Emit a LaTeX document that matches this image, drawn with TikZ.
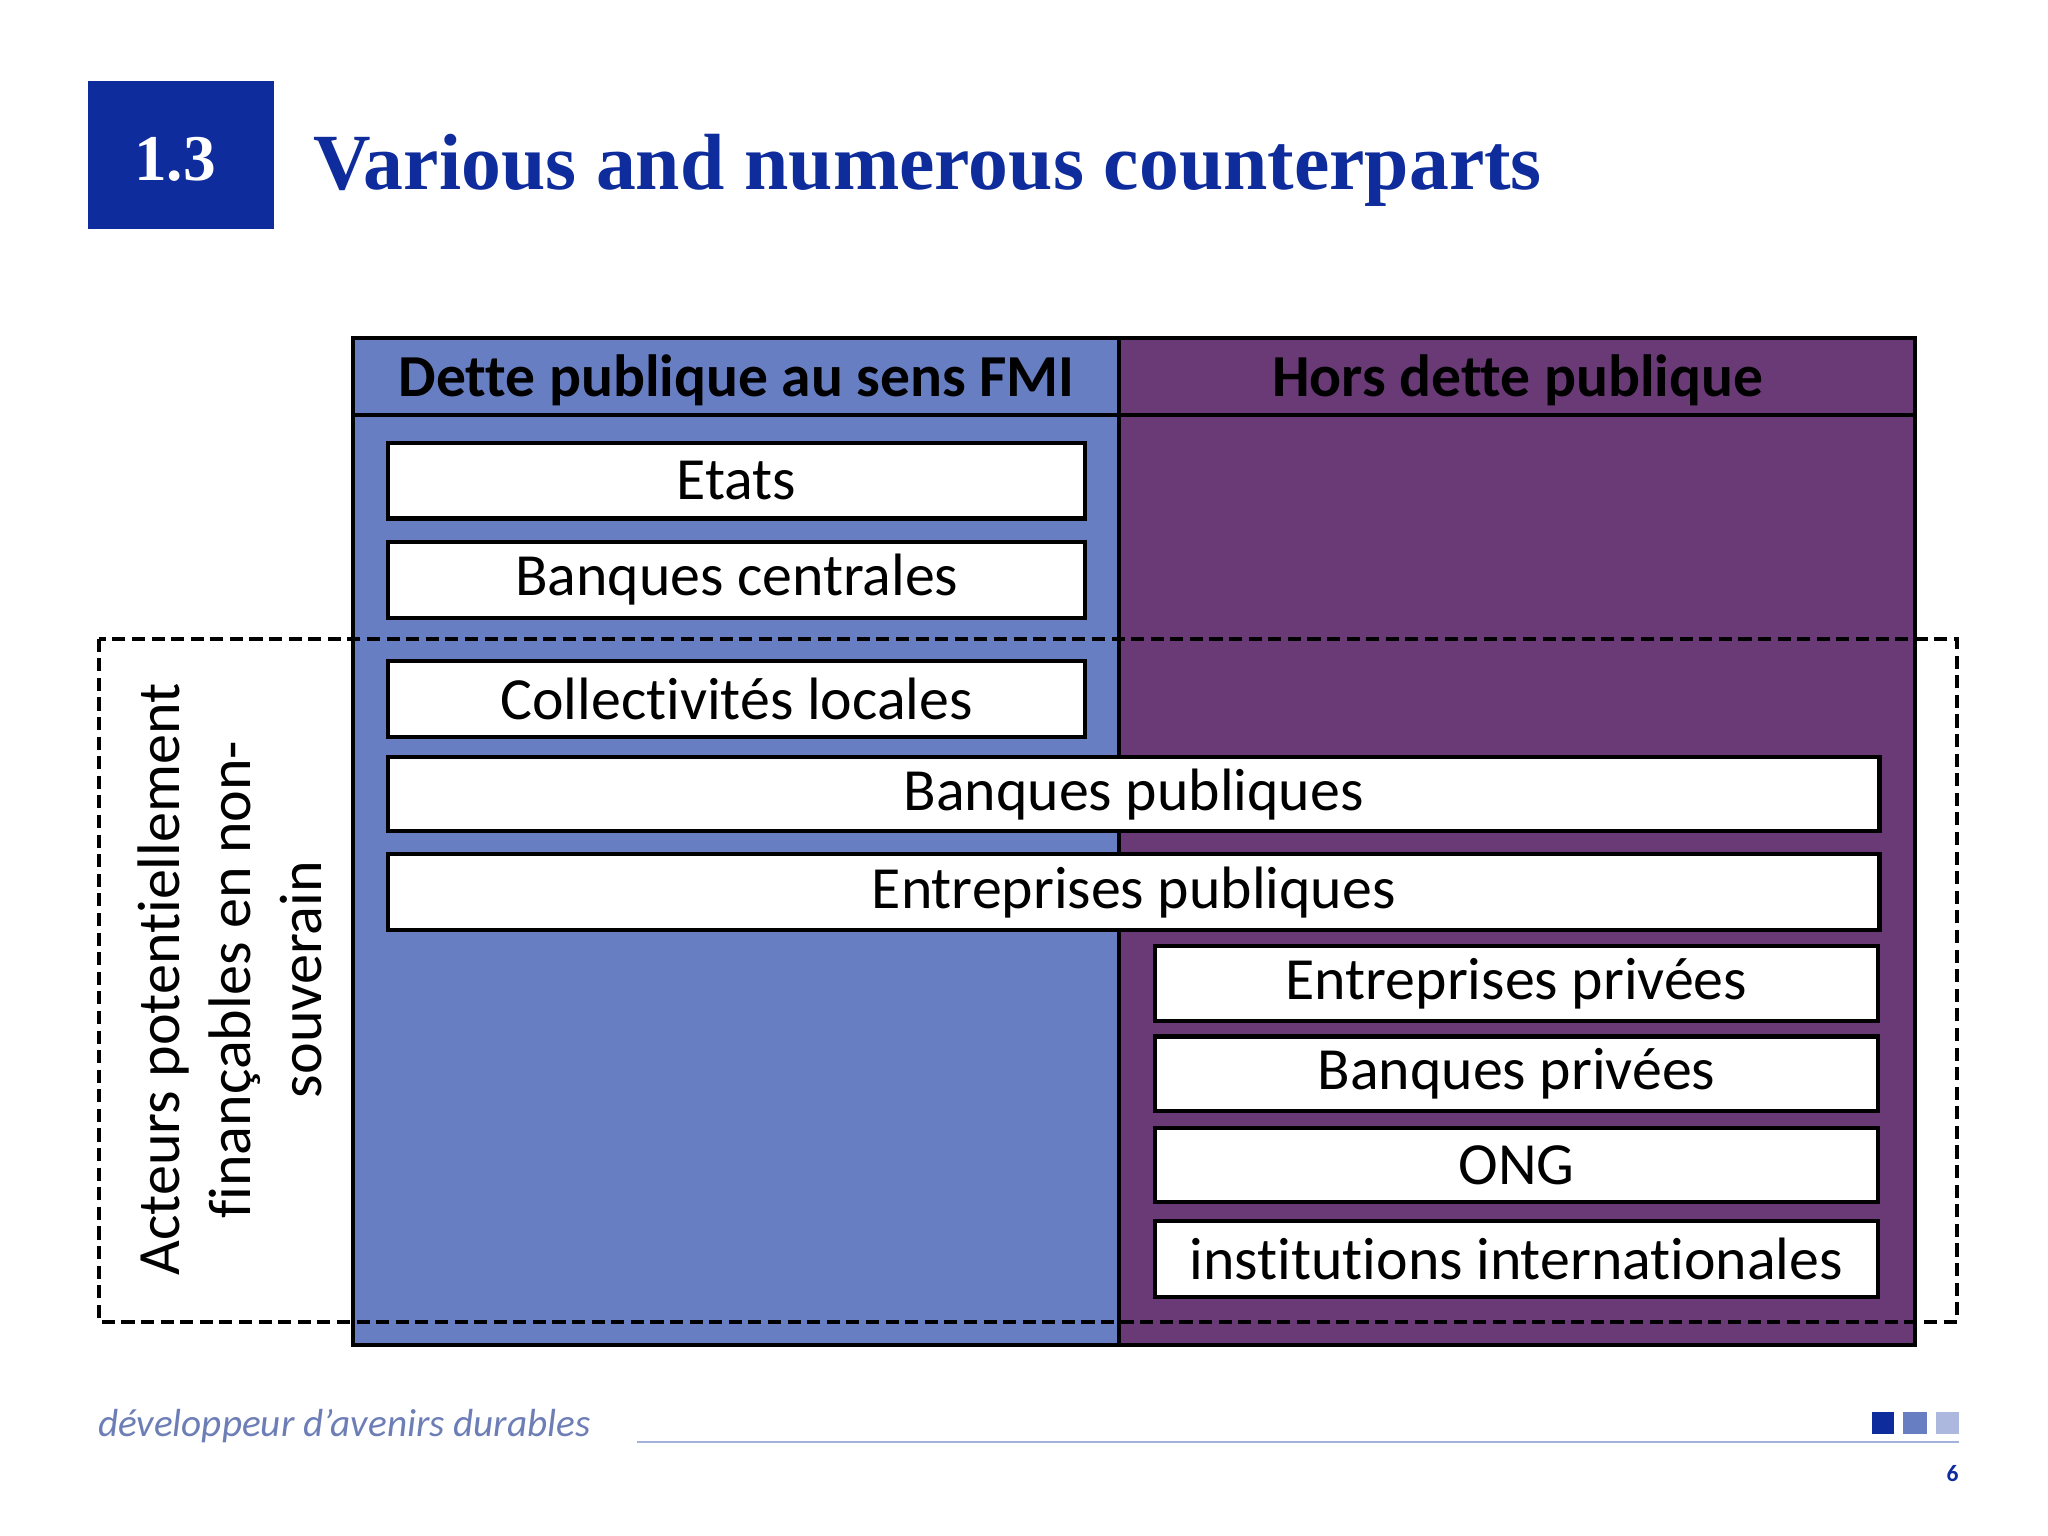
\documentclass[tikz,border=0pt]{standalone}
\usepackage{fontspec}
\setmainfont[Ligatures=NoCommon]{Carlito}
\newfontfamily\ser{Liberation Serif}
\begin{document}
\begin{tikzpicture}[x=0.5pt,y=-0.5pt,
  cell/.style={draw=black,line width=1.6pt,fill=white,inner sep=0pt,font=\fontsize{22.9}{24}\selectfont},
  rot/.style={rotate=90,font=\fontsize{23}{24}\selectfont}]
\definecolor{tblue}{HTML}{0E2C9C}
\definecolor{lblue}{HTML}{687EC3}
\definecolor{purp}{HTML}{6A3A77}
\useasboundingbox (0,0) rectangle (1568,1176);
\fill[white] (0,0) rectangle (1568,1176);
% title
\fill[tblue] (67,62) rectangle (210,175);
\node[text=white,font=\ser\bfseries\fontsize{25}{30}\selectfont] (num) at (134,122) {1.3};
\node[anchor=base west,text=tblue,font=\ser\bfseries\fontsize{30.5}{36}\selectfont] (title) at (233,145) {Various and numerous counterparts};
% table
\fill[lblue] (270,259) rectangle (857,1030);
\fill[purp] (857,259) rectangle (1466,1030);
\draw[line width=1.6pt] (270,259) rectangle (1466,1030);
\draw[line width=1.6pt] (857,259) -- (857,1030);
\draw[line width=1.6pt] (270,318) -- (1466,318);
\node[font=\bfseries\fontsize{22.8}{23}\selectfont] (h1) at (564,291) {Dette publique au sens FMI};
\node[font=\bfseries\fontsize{22.8}{23}\selectfont] (h2) at (1162,291) {Hors dette publique};
% boxes
\node[cell,minimum width=267pt,minimum height=29pt] (b1) at (564,368) {Etats};
\node[cell,minimum width=267pt,minimum height=29pt] (b2) at (564,444) {Banques centrales};
\node[cell,minimum width=267pt,minimum height=29pt] (b3) at (564,535) {Collectivités locales};
\node[cell,minimum width=571pt,minimum height=28.5pt] (b4) at (868,608) {Banques publiques};
\node[cell,minimum width=571pt,minimum height=29pt] (b5) at (868,683) {Entreprises publiques};
\node[cell,minimum width=277pt,minimum height=28.5pt] (b6) at (1161,753) {Entreprises privées};
\node[cell,minimum width=277pt,minimum height=28.5pt] (b7) at (1161,822) {Banques privées};
\node[cell,minimum width=277pt,minimum height=28.5pt] (b8) at (1161,892) {ONG};
\node[cell,minimum width=277pt,minimum height=29pt] (b9) at (1161,964) {institutions internationales};
% dashed
\draw[line width=1.5pt,dash pattern=on 5pt off 2.5pt] (76,489) rectangle (1498,1012);
\node[rot,align=center] (side) at (176,750) {Acteurs potentiellement\\[3pt]finançables en non-\\[3pt]souverain};
% footer
\node[anchor=base west,text=lblue!80!gray,font=\itshape\fontsize{15}{18}\selectfont] (foot) at (68,1100) {développeur d'avenirs durables};
\draw[lblue!60,line width=0.6pt] (488,1104) -- (1500,1104);
\fill[tblue] (1433,1081) rectangle (1450,1098);
\fill[lblue] (1457,1081) rectangle (1475,1098);
\fill[lblue!55] (1482,1081) rectangle (1500,1098);
\node[text=tblue,font=\bfseries\fontsize{9}{10}\selectfont] (pg) at (1495,1128) {6};
\end{tikzpicture}
\end{document}
